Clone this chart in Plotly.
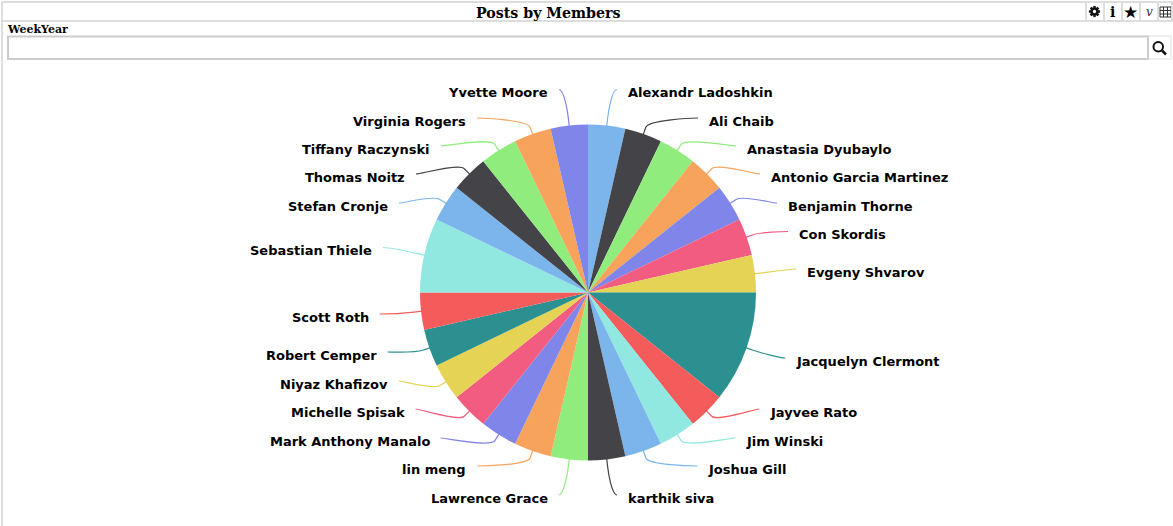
import math
import plotly.graph_objects as go

W, H = 1173, 526
title = "Posts by Members"
filter_label = "WeekYear"
members = ["Alexandr Ladoshkin", "Ali Chaib", "Anastasia Dyubaylo", "Antonio Garcia Martinez",
           "Benjamin Thorne", "Con Skordis", "Evgeny Shvarov", "Jacquelyn Clermont", "Jayvee Rato",
           "Jim Winski", "Joshua Gill", "karthik siva", "Lawrence Grace", "lin meng",
           "Mark Anthony Manalo", "Michelle Spisak", "Niyaz Khafizov", "Robert Cemper", "Scott Roth",
           "Sebastian Thiele", "Stefan Cronje", "Thomas Noitz", "Tiffany Raczynski",
           "Virginia Rogers", "Yvette Moore"]
posts = [1, 1, 1, 1, 1, 1, 1, 3, 1, 1, 1, 1, 1, 1, 1, 1, 1, 1, 1, 2, 1, 1, 1, 1, 1]
palette = ["#7cb5ec", "#434348", "#90ed7d", "#f7a35c", "#8085e9", "#f15c80", "#e4d354",
           "#2b908f", "#f45b5b", "#91e8e1"]

# label layout: inner edge of each text and its vertical centre, in page pixels
label_edge = [628, 709, 747, 771, 788, 799, 807.4, 796.4, 770.4, 746.4, 708.4, 628,
              547.6, 466.4, 429.6, 404.6, 387.6, 376.6, 368.6, 372, 388, 405, 430, 466, 548]
label_mid = [92.5, 121, 149, 177, 206, 234.5, 272, 361, 412, 441, 469, 498,
             498, 469, 441, 412, 384, 355, 317, 250.5, 206, 177, 149, 121, 92.5]

CX, CY, R = 588, 292.5, 168
TEXT_PAD = 2


def px(x):
    return x / W


def py(y):
    return 1 - y / H


def path_px(points):
    out = []
    for cmd, coords in points:
        out.append(cmd + " ".join(f"{px(x):.5f},{py(y):.5f}" for x, y in coords))
    return " ".join(out)


colors = [palette[i % len(palette)] for i in range(len(members))]
fig = go.Figure(go.Pie(
    labels=members, values=posts, sort=False, direction="clockwise", rotation=0,
    textinfo="none", hoverinfo="label+value", showlegend=False,
    marker=dict(colors=colors, line=dict(width=0)),
    domain=dict(x=[px(CX - R), px(CX + R)], y=[py(CY + R), py(CY - R)]),
))

shapes = []
annotations = []


def rect(x0, y0, x1, y1, color="#dddddd", width=2, fill="rgba(0,0,0,0)"):
    shapes.append(dict(type="rect", xref="paper", yref="paper", x0=px(x0), x1=px(x1), y0=py(y0), y1=py(y1),
                       line=dict(color=color, width=width), fillcolor=fill, layer="below"))


def line(x0, y0, x1, y1, color="#dddddd", width=2):
    shapes.append(dict(type="line", xref="paper", yref="paper", x0=px(x0), x1=px(x1), y0=py(y0), y1=py(y1),
                       line=dict(color=color, width=width)))


def text(x, y, s, size, family, anchor="left", color="#000000", bold=True, italic=False):
    if bold:
        s = f"<b>{s}</b>"
    if italic:
        s = f"<i>{s}</i>"
    if anchor == "left":
        x -= TEXT_PAD
    elif anchor == "right":
        x += TEXT_PAD
    annotations.append(dict(xref="paper", yref="paper", x=px(x), y=py(y), text=s, showarrow=False,
                            xanchor=anchor, yanchor="middle", align=anchor,
                            font=dict(size=size, family=family, color=color)))


# widget frame
line(1, 2, 1173, 2)
line(2, 1, 2, 526)
line(2, 21, 1173, 21)
line(1172, 1, 1172, 21)
for bx in (1086, 1104, 1122, 1140, 1158):
    line(bx, 2, bx, 21)
text(548, 13, title, 14.2, "DejaVu Serif", anchor="center")
text(7, 29.6, filter_label, 11, "DejaVu Serif")
rect(8, 36.5, 1148, 59)
shapes[-1]["line"]["color"] = "#cccccc"
line(1148, 36, 1171, 36, "#dddddd", 1)
line(1148, 59, 1171, 59, "#dddddd", 1)
line(1171, 36, 1171, 59, "#dddddd", 1)

# toolbar glyphs
gear_x, gear_y = 1094.5, 11.5
shapes.append(dict(type="circle", xref="paper", yref="paper", x0=px(gear_x - 3), x1=px(gear_x + 3),
                   y0=py(gear_y + 3), y1=py(gear_y - 3), line=dict(color="#111111", width=2.6)))
for k in range(4):
    a = k * math.pi / 4
    line(gear_x - 5.6 * math.cos(a), gear_y - 5.6 * math.sin(a),
         gear_x - 3.6 * math.cos(a), gear_y - 3.6 * math.sin(a), "#111111", 2.4)
    line(gear_x + 3.6 * math.cos(a), gear_y + 3.6 * math.sin(a),
         gear_x + 5.6 * math.cos(a), gear_y + 5.6 * math.sin(a), "#111111", 2.4)
text(1112, 12, "i", 14, "DejaVu Serif", anchor="center")
text(1130, 11.5, "★", 17, "DejaVu Sans", anchor="center")
text(1149, 12, "v", 12, "DejaVu Serif", anchor="center", color="#333333", bold=False, italic=True)
rect(1160, 7, 1171, 17, "#333333", 1)
line(1160, 10.5, 1171, 10.5, "#333333", 1)
line(1160, 14, 1171, 14, "#333333", 1)
line(1163.5, 7, 1163.5, 17, "#333333", 1)
line(1167.5, 7, 1167.5, 17, "#333333", 1)
shapes.append(dict(type="circle", xref="paper", yref="paper", x0=px(1153.5), x1=px(1163), y0=py(42), y1=py(51.5),
                   line=dict(color="#111111", width=2)))
line(1162, 50.5, 1166, 54.5, "#111111", 2.5)

# labels and soft connectors
total = sum(posts)
running = 0
for name, value, color, edge, mid in zip(members, posts, colors, label_edge, label_mid):
    angle = math.radians((running + value / 2) / total * 360)
    running += value
    right = math.sin(angle) >= 0
    text(edge, mid, name, 13, "DejaVu Sans", anchor="left" if right else "right")
    sign = 1 if right else -1
    ex, ey = edge - sign * 11, mid - 3
    tx, ty = CX + (R - 1) * math.sin(angle), CY - (R - 1) * math.cos(angle)
    bx, by = CX + (R + 7) * math.sin(angle), CY - (R + 7) * math.cos(angle)
    d = path_px([("M", [(ex, ey)]),
                 ("C", [(ex - sign * 5, ey), (2 * bx - tx, 2 * by - ty), (bx, by)]),
                 ("L", [(tx, ty)])])
    shapes.append(dict(type="path", xref="paper", yref="paper", path=d, line=dict(color=color, width=1.2), layer="above"))

fig.update_layout(width=W, height=H, margin=dict(l=0, r=0, t=0, b=0), paper_bgcolor="#ffffff",
                  shapes=shapes, annotations=annotations)
fig.write_html("out.html", config=dict(displayModeBar=False),
               post_script="document.body.style.margin='0';document.body.style.overflow='hidden';")
